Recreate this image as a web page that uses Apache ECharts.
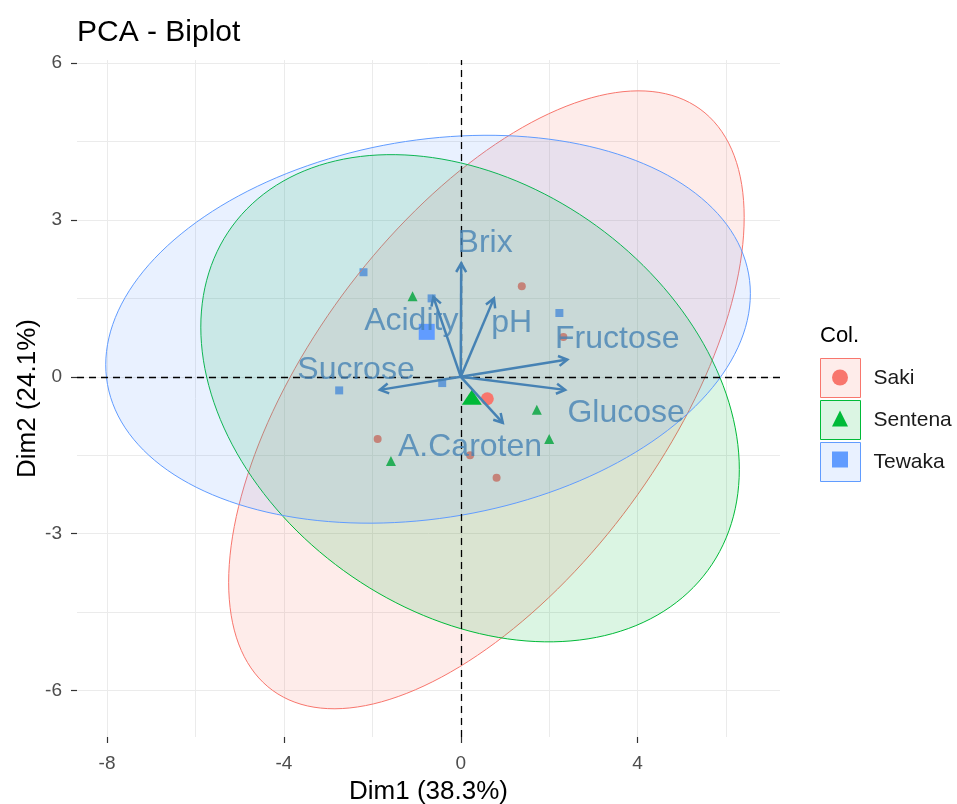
<!DOCTYPE html>
<html>
<head>
<meta charset="utf-8">
<title>PCA - Biplot</title>
<script src="https://cdn.jsdelivr.net/npm/echarts@6/dist/echarts.min.js"></script>
<style>
html, body { margin: 0; padding: 0; background: #fff; }
#chart { width: 957px; height: 804px; }
</style>
</head>
<body>
<div id="chart"></div>
<script>
// ticks and grid lines
var xTicks = [-8, -4, 0, 4];
var yTicks = [-6, -3, 0, 3, 6];
var xGrid = [-8, -6, -4, -2, 0, 2, 4, 6];
var yGrid = [-6, -4.5, -3, -1.5, 0, 1.5, 3, 4.5, 6];
var xRange = [-8.68, 7.22];
var yRange = [-6.89, 6.06];

var groups = ['Saki', 'Sentena', 'Tewaka'];
var groupColors = ['#F8766D', '#00BA38', '#619CFF'];
var groupSymbols = ['circle', 'triangle', 'rect'];

// individuals (Dim1, Dim2)
var sakiPts = [[1.38, 1.73], [2.32, 0.76], [-1.88, -1.19], [0.81, -1.93], [0.21, -1.5]];
var sentenaPts = [[-1.09, 1.54], [1.72, -0.63], [2.0, -1.19], [-1.58, -1.61]];
var tewakaPts = [[-2.2, 2.0], [-0.66, 1.5], [2.23, 1.22], [-2.75, -0.26], [-0.42, -0.12]];
var groupPts = [sakiPts, sentenaPts, tewakaPts];

// group means
var groupMeans = [[0.6, -0.42], [0.25, -0.39], [-0.77, 0.86]];

// ellipses: centre, half width, half height, y offset at rightmost point
var ellCenter = [[0.58, -0.44], [0.21, -0.41], [-0.74, 0.91]];
var ellRx = [5.83, 6.09, 7.29];
var ellRy = [5.91, 4.66, 3.71];
var ellYAtRight = [3.49, -1.36, 0.68];

// variables
var varNames = ['Brix', 'Acidity', 'pH', 'Fructose', 'Glucose', 'Sucrose', 'A.Caroten'];
var varArrows = [[0.01, 2.17], [-0.62, 1.53], [0.75, 1.5], [2.41, 0.33], [2.36, -0.25], [-1.83, -0.25], [0.95, -0.88]];
var varLabelPos = [[0.55, 2.56], [-1.12, 1.06], [1.15, 1.02], [3.54, 0.72], [3.74, -0.69], [-2.37, 0.12], [0.21, -1.34]];

var varColor = '#4682B4';

function fade(hex, a) {
  var r = parseInt(hex.slice(1, 3), 16), g = parseInt(hex.slice(3, 5), 16), b = parseInt(hex.slice(5, 7), 16);
  return 'rgba(' + r + ',' + g + ',' + b + ',' + a + ')';
}

var chart = echarts.init(document.getElementById('chart'));

var series = [];

// grid lines
series.push({
  type: 'line', data: [], silent: true, z: 1,
  markLine: {
    z: 1, symbol: 'none', silent: true, animation: false,
    label: { show: false },
    lineStyle: { color: '#ebebeb', type: 'solid', width: 1 },
    data: xGrid.map(function (v) { return { xAxis: v }; })
      .concat(yGrid.map(function (v) { return { yAxis: v }; }))
  }
});

// individual points (under the ellipses)
groups.forEach(function (g, i) {
  series.push({
    type: 'scatter', name: g, z: 2, silent: true,
    symbol: groupSymbols[i],
    symbolSize: i === 1 ? 10 : 8,
    itemStyle: { color: groupColors[i], opacity: 1 },
    data: groupPts[i]
  });
});

// ellipses
groups.forEach(function (g, i) {
  series.push({
    type: 'custom', name: g, z: 3, silent: true,
    coordinateSystem: 'cartesian2d',
    data: [ellCenter[i]],
    renderItem: function (params, api) {
      var c = ellCenter[i], rx = ellRx[i], ry = ellRy[i], yo = ellYAtRight[i];
      var k = Math.sqrt(ry * ry - yo * yo);
      var pts = [];
      for (var j = 0; j < 180; j++) {
        var t = 2 * Math.PI * j / 180;
        pts.push(api.coord([c[0] + rx * Math.cos(t), c[1] + yo * Math.cos(t) + k * Math.sin(t)]));
      }
      return {
        type: 'polygon',
        shape: { points: pts },
        style: { fill: fade(groupColors[i], 0.14), stroke: groupColors[i], lineWidth: 1 }
      };
    }
  });
});

// dashed zero lines
series.push({
  type: 'line', data: [], silent: true, z: 4,
  markLine: {
    z: 4, symbol: 'none', silent: true, animation: false,
    label: { show: false },
    lineStyle: { color: '#000', type: [7, 5], width: 1.3 },
    data: [{ xAxis: 0 }, { yAxis: 0 }]
  }
});

// group means
groups.forEach(function (g, i) {
  series.push({
    type: 'scatter', name: g + ' mean', z: 5, silent: true,
    symbol: groupSymbols[i],
    symbolSize: i === 0 ? 13 : (i === 1 ? [20, 15] : 16),
    itemStyle: { color: groupColors[i], opacity: 1 },
    data: [groupMeans[i]]
  });
});

// variable arrows
series.push({
  type: 'custom', name: 'variables', z: 6, silent: true,
  coordinateSystem: 'cartesian2d',
  data: varArrows,
  renderItem: function (params, api) {
    var o = api.coord([0, 0]);
    var p = api.coord(varArrows[params.dataIndex]);
    var ang = Math.atan2(p[1] - o[1], p[0] - o[0]);
    var L = 10, a = Math.PI / 6;
    var h1 = [p[0] - L * Math.cos(ang - a), p[1] - L * Math.sin(ang - a)];
    var h2 = [p[0] - L * Math.cos(ang + a), p[1] - L * Math.sin(ang + a)];
    return {
      type: 'group',
      children: [
        { type: 'line', shape: { x1: o[0], y1: o[1], x2: p[0], y2: p[1] }, style: { stroke: varColor, lineWidth: 2.5 } },
        { type: 'polyline', shape: { points: [h1, p, h2] }, style: { stroke: varColor, lineWidth: 2.5, fill: null } }
      ]
    };
  }
});

// variable labels
series.push({
  type: 'scatter', name: 'labels', z: 7, silent: true,
  symbolSize: 1,
  itemStyle: { color: 'rgba(0,0,0,0)' },
  data: varLabelPos,
  label: {
    show: true, position: 'inside',
    formatter: function (p) { return varNames[p.dataIndex]; },
    fontSize: 32, color: varColor
  }
});

var option = {
  animation: false,
  backgroundColor: '#fff',
  textStyle: { fontFamily: 'Liberation Sans, Arial, sans-serif' },
  title: [
    { text: 'PCA - Biplot', left: 72, top: 13, textStyle: { fontSize: 30, fontWeight: 'normal', color: '#000' } },
    { text: 'Col.', left: 815, top: 320, textStyle: { fontSize: 22, fontWeight: 'normal', color: '#000' } }
  ],
  legend: [
    {
      orient: 'vertical', left: 820, top: 358, padding: 0, itemWidth: 40, itemHeight: 39, itemGap: 2,
      icon: 'rect', selectedMode: false,
      textStyle: { fontSize: 21, color: '#1a1a1a', padding: [0, 0, 0, 8] },
      data: groups.map(function (g, i) {
        return { name: g, itemStyle: { color: fade(groupColors[i], 0.14), borderColor: groupColors[i], borderWidth: 1 } };
      })
    },
    {
      orient: 'vertical', left: 832, top: 369.5, padding: 0, itemWidth: 16, itemHeight: 16, itemGap: 25,
      selectedMode: false,
      formatter: function () { return ''; },
      data: groups.map(function (g, i) {
        return { name: g, icon: groupSymbols[i], itemStyle: { color: groupColors[i], borderWidth: 0 } };
      })
    }
  ],
  grid: { left: 77, right: 177, top: 60, bottom: 67, containLabel: false, outerBoundsMode: 'none' },
  xAxis: {
    type: 'value', min: xRange[0], max: xRange[1],
    name: 'Dim1 (38.3%)', nameLocation: 'middle', nameGap: 42, nameMoveOverlap: false,
    nameTextStyle: { fontSize: 26, color: '#000' },
    axisLine: { show: true, onZero: false, lineStyle: { color: 'rgba(0,0,0,0)' } },
    axisTick: { show: true, length: 6, customValues: xTicks, lineStyle: { color: '#333', width: 1.2 } },
    axisLabel: { customValues: xTicks, margin: 17, fontSize: 19, color: '#4d4d4d' },
    splitLine: { show: false }
  },
  yAxis: {
    type: 'value', min: yRange[0], max: yRange[1],
    name: 'Dim2 (24.1%)', nameLocation: 'middle', nameGap: 36, nameRotate: 90, nameMoveOverlap: false,
    nameTextStyle: { fontSize: 26, color: '#000' },
    axisLine: { show: true, onZero: false, lineStyle: { color: 'rgba(0,0,0,0)' } },
    axisTick: { show: true, length: 6, customValues: yTicks, lineStyle: { color: '#333', width: 1.2 } },
    axisLabel: { customValues: yTicks, margin: 15, fontSize: 19, color: '#4d4d4d' },
    splitLine: { show: false }
  },
  series: series
};

chart.setOption(option);
</script>
</body>
</html>
